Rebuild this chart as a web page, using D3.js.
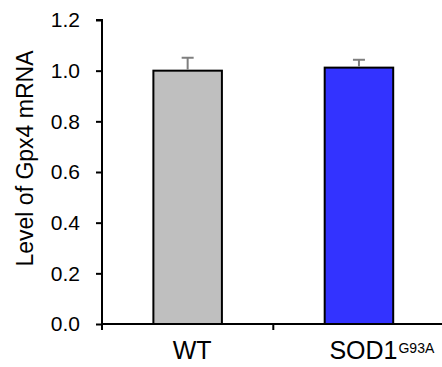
<!DOCTYPE html>
<html>
<head>
<meta charset="utf-8">
<script src="https://cdn.jsdelivr.net/npm/d3@7"></script>
<style>
  html, body { margin: 0; padding: 0; background: #fff; }
  #chart { width: 442px; height: 367px; }
  text { font-family: "Liberation Sans", Arial, sans-serif; fill: #000; }
</style>
</head>
<body>
<div id="chart"></div>
<script>
var groups = ["WT", "SOD1"];
var groupSup = ["", "G93A"];
var means = [1.0, 1.012];
var errors = [0.051, 0.031];
var barColors = ["#bfbfbf", "#3333ff"];
var yTicks = [0, 0.2, 0.4, 0.6, 0.8, 1.0, 1.2];

var width = 442, height = 367;
var mLeft = 102, mTop = 20, mBottom = 324, mRight = 444.6;

var svg = d3.select("#chart").append("svg")
    .attr("width", width)
    .attr("height", height);

var x = d3.scaleBand()
    .domain(groups)
    .range([mLeft, mRight])
    .paddingInner(0.6)
    .paddingOuter(0.3);

var y = d3.scaleLinear()
    .domain([0, 1.2])
    .range([mBottom, mTop]);

// bars
svg.append("g")
  .selectAll("rect")
  .data(groups)
  .enter().append("rect")
    .attr("x", function(d) { return x(d); })
    .attr("y", function(d, i) { return y(means[i]); })
    .attr("width", x.bandwidth())
    .attr("height", function(d, i) { return y(0) - y(means[i]); })
    .attr("fill", function(d, i) { return barColors[i]; })
    .attr("stroke", "#000")
    .attr("stroke-width", 2);

// error bars (upper only)
var err = svg.append("g")
    .attr("stroke", "#7f7f7f")
    .attr("stroke-width", 2);

groups.forEach(function(g, i) {
  var cx = x(g) + x.bandwidth() / 2;
  err.append("line")
    .attr("x1", cx).attr("x2", cx)
    .attr("y1", y(means[i]) - 1)
    .attr("y2", y(means[i] + errors[i]));
  err.append("line")
    .attr("x1", cx - 6).attr("x2", cx + 6)
    .attr("y1", y(means[i] + errors[i]))
    .attr("y2", y(means[i] + errors[i]));
});

// y axis
var yAxis = svg.append("g")
    .attr("transform", "translate(" + mLeft + ",0)")
    .call(d3.axisLeft(y)
      .tickValues(yTicks)
      .tickFormat(d3.format(".1f"))
      .tickSize(6)
      .tickPadding(16));
yAxis.select(".domain").attr("stroke", "#000").attr("stroke-width", 2)
    .attr("d", "M-6," + mTop + "H0V" + mBottom);
yAxis.selectAll(".tick line").attr("stroke", "#000").attr("stroke-width", 2);
yAxis.selectAll(".tick text")
    .style("font-size", "21px")
    .style("font-family", "'Liberation Sans', Arial, sans-serif")
    .attr("fill", "#000");

// x axis
var xTickPos = [mLeft, mLeft + x.step(), mRight];
var xAxis = svg.append("g");
xAxis.append("line")
    .attr("x1", mLeft).attr("x2", mRight)
    .attr("y1", mBottom).attr("y2", mBottom)
    .attr("stroke", "#000").attr("stroke-width", 2);
xAxis.selectAll(".xt")
  .data(xTickPos)
  .enter().append("line")
    .attr("class", "xt")
    .attr("x1", function(d) { return d; })
    .attr("x2", function(d) { return d; })
    .attr("y1", mBottom)
    .attr("y2", mBottom + 6)
    .attr("stroke", "#000").attr("stroke-width", 2);

groups.forEach(function(g, i) {
  var cx = x(g) + x.bandwidth() / 2 + 4.5;
  var t = svg.append("text")
      .attr("x", cx)
      .attr("y", 359)
      .attr("text-anchor", "middle")
      .style("font-size", "25px")
      .text(g);
  if (groupSup[i]) {
    var w = t.node().getComputedTextLength();
    svg.append("text")
      .attr("x", cx + w / 2 + 1)
      .attr("y", 353)
      .style("font-size", "14px")
      .text(groupSup[i]);
  }
});

// y label
svg.append("text")
    .attr("transform", "translate(33," + 158.5 + ") rotate(-90)")
    .attr("text-anchor", "middle")
    .style("font-size", "23px")
    .text("Level of Gpx4 mRNA");
</script>
</body>
</html>
